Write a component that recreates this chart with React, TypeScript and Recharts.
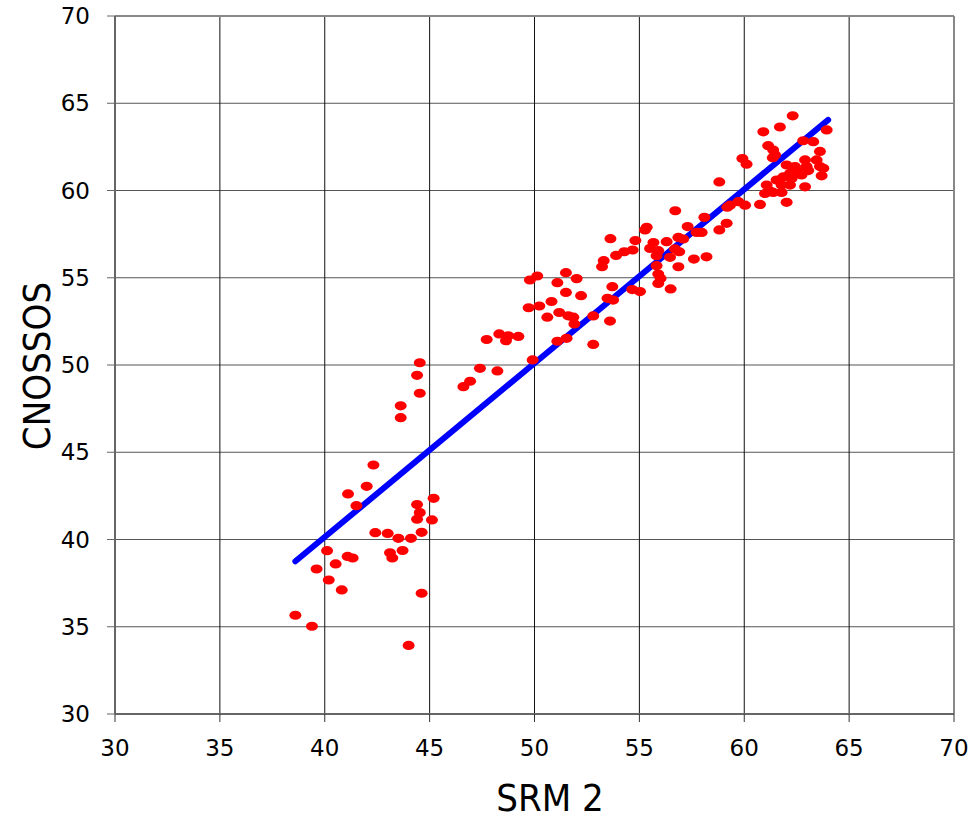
import { ScatterChart, Scatter, XAxis, YAxis, CartesianGrid, ReferenceLine, Label } from "recharts";

// SRM 2 (x) against CNOSSOS (y)
const srm2 = [
  44.53, 44.4, 44.53, 43.62, 43.62, 42.32, 42.0, 41.11, 41.51, 45.19, 44.4, 44.53, 44.4, 45.11, 42.41, 43.0, 43.51,
  44.11, 44.62, 40.11, 41.09, 41.33, 43.11, 43.22, 43.71, 40.52, 39.61, 40.19, 40.81, 44.62, 38.6, 39.39, 44.0,
  46.61, 46.93, 47.4, 48.23, 47.72, 48.32, 48.64, 48.75, 49.23, 49.91, 49.72, 50.23, 49.78, 50.13, 50.81, 50.61,
  51.09, 51.5, 52.01, 51.5, 52.22, 51.18, 51.61, 51.85, 51.9, 51.09, 51.53, 52.8, 52.8, 53.6, 53.48, 53.75, 53.71,
  54.66, 55.03, 53.22, 53.3, 53.62, 53.89, 54.28, 54.68, 54.81, 55.27, 55.35,
  56.71, 55.67, 55.51, 55.9, 56.3, 55.82, 56.46, 56.7, 56.9, 56.86, 57.09, 57.3, 57.73, 57.97, 58.1, 58.81, 59.16,
  59.19, 57.6, 58.2, 56.86, 55.82, 55.9, 56.01, 55.9, 56.49,
  62.31, 61.7, 60.91, 63.93, 59.91, 60.11, 58.81, 61.14, 61.38, 61.47, 61.36, 62.81, 63.29, 63.61, 62.9, 63.45,
  62.02, 62.42, 63.61, 63.77, 62.97, 63.05, 62.57, 62.73, 62.18, 63.69, 61.86, 62.26, 61.54, 61.78, 62.18, 62.9,
  61.07, 61.23, 61.38, 60.99, 61.78, 62.02, 60.75, 60.04, 59.72, 59.32,
];

const cnossos = [
  50.13, 49.41, 48.38, 47.66, 46.98, 44.27, 43.05, 42.61, 41.94, 42.36, 42.0, 41.54, 41.16, 41.12, 40.39, 40.35, 40.07,
  40.07, 40.41, 39.36, 39.03, 38.94, 39.24, 38.94, 39.37, 38.6, 38.31, 37.68, 37.11, 36.92, 35.66, 35.03, 33.93,
  48.76, 49.07, 49.81, 49.66, 51.46, 51.78, 51.39, 51.67, 51.64, 50.29, 53.28, 53.38, 54.87, 55.1, 53.64, 52.74,
  54.72, 55.29, 54.95, 54.16, 53.97, 53.01, 52.82, 52.74, 52.35, 51.36, 51.53, 51.18, 52.81, 52.52, 53.82, 53.72, 54.49,
  54.32, 54.21, 55.63, 55.98, 57.24, 56.28, 56.49, 56.59, 57.13, 57.74, 57.89,
  58.84, 57.02, 56.68, 56.55, 57.07, 56.26, 56.17, 56.65, 56.49, 57.31, 57.22, 57.93, 57.6, 57.6, 58.46, 57.74, 58.12,
  59.04, 56.07, 56.2, 55.63, 55.69, 55.21, 54.96, 54.67, 54.36,
  64.28, 63.64, 63.36, 63.47, 61.83, 61.51, 60.49, 62.57, 62.32, 62.03, 61.88, 62.85, 62.8, 62.24, 61.75, 61.75,
  61.46, 61.37, 61.37, 61.27, 61.37, 61.14, 61.08, 60.89, 60.98, 60.84, 60.78, 60.69, 60.6, 60.31, 60.31, 60.21,
  60.31, 59.97, 59.89, 59.83, 59.89, 59.32, 59.2, 59.16, 59.36, 59.16,
];

// fitted line end points
const fitX = [38.6, 64.0];
const fitY = [38.75, 64.05];

const ticks = [30, 35, 40, 45, 50, 55, 60, 65, 70];

const points = srm2.map((x, i) => ({ x, y: cnossos[i] }));
const fitLine = fitX.map((x, i) => ({ x, y: fitY[i] }));

const tickFont = "'DejaVu Sans', sans-serif";
const titleFont = "'DejaVu Sans Condensed', 'DejaVu Sans', sans-serif";

// eslint-disable-next-line @typescript-eslint/no-explicit-any
const RedDot = (props: any) => <ellipse cx={props.cx} cy={props.cy} rx={6} ry={4.6} fill="#ff0000" />;

// eslint-disable-next-line @typescript-eslint/no-explicit-any
const XTick = ({ x, y, payload }: any) => (
  <text x={x} y={y + 34} textAnchor="middle" fontSize={23} fontFamily={tickFont} fill="#000">
    {payload.value}
  </text>
);

// eslint-disable-next-line @typescript-eslint/no-explicit-any
const YTick = ({ x, y, payload }: any) => (
  <text x={x - 17} y={y + 8} textAnchor="end" fontSize={23} fontFamily={tickFont} fill="#000">
    {payload.value}
  </text>
);

export default function App() {
  return (
    <div style={{ position: "absolute", left: 0, top: 0, width: 973, height: 819 }}>
      <ScatterChart width={973} height={819} margin={{ top: 16, right: 19, left: 0, bottom: 0 }}>
        <CartesianGrid vertical={false} stroke="#555" strokeWidth={1} />
        <CartesianGrid horizontal={false} stroke="#111" strokeWidth={1} />
        <XAxis
          type="number"
          dataKey="x"
          domain={[30, 70]}
          ticks={ticks}
          height={105}
          tickSize={8}
          tickMargin={0}
          tick={<XTick />}
          tickLine={{ stroke: "#333" }}
          axisLine={{ stroke: "#666", strokeWidth: 2 }}
        >
          <Label
            content={() => (
              <text x={550} y={811} textAnchor="middle" fontSize={38} fontFamily={titleFont} fill="#000">
                SRM 2
              </text>
            )}
          />
        </XAxis>
        <YAxis
          type="number"
          dataKey="y"
          domain={[30, 70]}
          ticks={ticks}
          width={115}
          tickSize={8}
          tickMargin={0}
          tick={<YTick />}
          tickLine={{ stroke: "#666" }}
          axisLine={{ stroke: "#666", strokeWidth: 2 }}
        >
          <Label
            content={() => (
              <text
                x={50}
                y={366}
                transform="rotate(-90 50 366)"
                textAnchor="middle"
                fontSize={38}
                fontFamily={titleFont}
                fill="#000"
              >
                CNOSSOS
              </text>
            )}
          />
        </YAxis>
        <ReferenceLine y={70} stroke="#888" strokeWidth={2} />
        <ReferenceLine x={70} stroke="#888" strokeWidth={2} />
        <Scatter
          data={fitLine}
          line={{ stroke: "#0000ff", strokeWidth: 6, strokeLinecap: "round" }}
          shape={() => <g />}
          isAnimationActive={false}
        />
        <Scatter data={points} shape={RedDot} isAnimationActive={false} />
      </ScatterChart>
    </div>
  );
}
